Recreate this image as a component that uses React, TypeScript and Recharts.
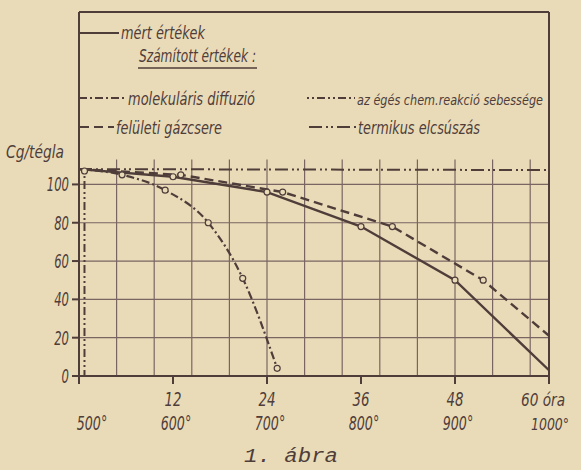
import React from "react"
import { LineChart, Line, XAxis, YAxis, CartesianGrid, ReferenceLine } from "recharts"

// mért értékek
const measuredHours = [0, 12, 24, 36, 48, 60]
const measuredValues = [108, 104, 96, 78, 50, 3]
const measuredMarks = [1, 2, 3, 4]

// felületi gázcsere
const surfaceHours = [0, 13, 26, 40, 51.6, 60]
const surfaceValues = [108, 105, 96, 78, 50, 21]
const surfaceMarks = [1, 2, 3, 4]

// molekuláris diffuzió
const diffusionHours = [0, 5.5, 11, 16.5, 20.9, 25.3]
const diffusionValues = [108, 105, 97, 80, 51, 4]
const diffusionMarks = [1, 2, 3, 4, 5]

// az égés chem. reakció sebessége
const reactionHours = [0.7, 0.7]
const reactionValues = [107, 0]
const reactionMarks = [0]

// termikus elcsúszás
const thermalHours = [0, 60]
const thermalValues = [108, 107.5]

const hourTicks = [0, 12, 24, 36, 48, 60]
const hourLabels = ["", "12", "24", "36", "48", "60 óra"]
const tempLabels = ["500°", "600°", "700°", "800°", "900°", "1000°"]
const yTicks = [0, 20, 40, 60, 80, 100]

const INK = "#4f3d3a"
const GRID = "#7a6562"
const PAPER = "#e9dbb8"
const FONT = "'DejaVu Sans Condensed', 'Liberation Sans Narrow', sans-serif"

// vertical grid every 4.8 h, only up to ~113
const gridHours = Array.from({ length: 12 }, (_, i) => +(4.8 * (i + 1)).toFixed(1))

const zip = (hs: number[], vs: number[]) => hs.map((h, i) => ({ h, v: vs[i] }))

const marker = (marks: number[]) => (p: any) =>
  marks.includes(p.index) ? (
    <circle key={p.key} cx={p.cx} cy={p.cy} r={3} fill={PAPER} stroke={INK} strokeWidth={1.2} />
  ) : (
    <g key={p.key} />
  )

const YTick = (p: any) => {
  const s = String(p.payload.value)
  return (
    <text x={p.x - 1} y={p.y + 7} textAnchor="end" fill={INK} fontFamily={FONT}
      fontStyle="italic" fontSize={19} textLength={s.length * 7.4} lengthAdjust="spacingAndGlyphs">
      {s}
    </text>
  )
}

const XTick = (p: any) => {
  const i = hourTicks.indexOf(p.payload.value)
  const x = p.x
  const hour = hourLabels[i]
  const temp = tempLabels[i]
  const last = i === 5
  const tx = i === 0 ? x + 13 : last ? x - 18 : x + 3
  const hx = last ? x - 28 : x
  return (
    <g fill={INK} fontFamily={FONT} fontStyle="italic" fontSize={last ? 16 : 19}>
      {hour && (
        <text x={hx} y={p.y + 20} textAnchor={last ? "start" : "middle"} fontSize={last ? 18 : 19}
          textLength={last ? 44 : 17} lengthAdjust="spacingAndGlyphs">{hour}</text>
      )}
      <text x={tx} y={p.y + 44} textAnchor={last ? "start" : "middle"}
        textLength={temp.length * 7.6} lengthAdjust="spacingAndGlyphs">{temp}</text>
    </g>
  )
}

const Sample = ({ x1, x2, y, dash }: { x1: number; x2: number; y: number; dash?: string }) => (
  <line x1={x1} x2={x2} y1={y} y2={y} stroke={INK} strokeWidth={2.2} strokeDasharray={dash} />
)

const Label = ({ x, y, w, size = 18, children }: { x: number; y: number; w: number; size?: number; children: string }) => (
  <text x={x} y={y} fill={INK} fontFamily={FONT} fontStyle="italic" fontSize={size}
    textLength={w} lengthAdjust="spacingAndGlyphs">{children}</text>
)

const DASH_DIFF = "8 3 2 3"
const DASH_SURF = "9 5"
const DASH_REACT = "2 3 2 3 8 3"
const DASH_THERM = "13 4 2 3 2 4"

export default function App() {
  return (
    <div style={{ position: "relative", width: 581, height: 470, background: PAPER }}>
      <style>{`body{margin:0}`}</style>
      <LineChart width={581} height={470} margin={{ top: 12, right: 32, bottom: 0, left: 0 }}>
        <CartesianGrid vertical={false} stroke={GRID} strokeWidth={1.2} />
        <XAxis type="number" dataKey="h" domain={[0, 60]} ticks={hourTicks} height={94}
          tickSize={8} stroke={INK} strokeWidth={2} tick={<XTick />} interval={0} />
        <YAxis type="number" domain={[0, 190]} ticks={yTicks} width={79} tickSize={7}
          stroke={INK} strokeWidth={2} tick={<YTick />} interval={0} />
        {gridHours.map((g) => (
          <ReferenceLine key={g} segment={[{ x: g, y: 0 }, { x: g, y: 113 }]}
            stroke={GRID} strokeWidth={1.2} />
        ))}
        <ReferenceLine y={190} stroke={INK} strokeWidth={2} />
        <ReferenceLine x={60} stroke={INK} strokeWidth={2} />
        <Line data={zip(thermalHours, thermalValues)} dataKey="v" stroke={INK} strokeWidth={2}
          strokeDasharray={DASH_THERM} dot={false} isAnimationActive={false} />
        <Line data={zip(reactionHours, reactionValues)} dataKey="v" stroke={INK} strokeWidth={2}
          strokeDasharray={DASH_REACT} dot={marker(reactionMarks)} isAnimationActive={false} />
        <Line data={zip(diffusionHours, diffusionValues)} dataKey="v" type="monotone" stroke={INK}
          strokeWidth={2.2} strokeDasharray={DASH_DIFF} dot={marker(diffusionMarks)} isAnimationActive={false} />
        <Line data={zip(surfaceHours, surfaceValues)} dataKey="v" stroke={INK}
          strokeWidth={2.4} strokeDasharray={DASH_SURF} dot={marker(surfaceMarks)} isAnimationActive={false} />
        <Line data={zip(measuredHours, measuredValues)} dataKey="v" stroke={INK}
          strokeWidth={2.4} dot={marker(measuredMarks)} isAnimationActive={false} />
      </LineChart>
      <svg width={581} height={470} style={{ position: "absolute", left: 0, top: 0, pointerEvents: "none" }}>
        <Sample x1={79} x2={119} y={33} />
        <Label x={121} y={39} w={84}>mért értékek</Label>
        <Label x={139} y={62} w={117}>Számított értékek :</Label>
        <line x1={138} x2={257} y1={68} y2={68} stroke={INK} strokeWidth={1.5} />
        <Sample x1={79} x2={126} y={98} dash={DASH_DIFF} />
        <Label x={128} y={105} w={127}>molekuláris diffuzió</Label>
        <Sample x1={307} x2={355} y={98} dash={DASH_REACT} />
        <Label x={357} y={105} w={186} size={14}>az égés chem.reakció sebessége</Label>
        <Sample x1={80} x2={114} y={127} dash={DASH_SURF} />
        <Label x={116} y={134} w={106}>felületi gázcsere</Label>
        <Sample x1={309} x2={356} y={127} dash={DASH_THERM} />
        <Label x={358} y={134} w={122}>termikus elcsúszás</Label>
        <text x={6} y={158} fill={INK} fontFamily={FONT} fontStyle="italic" fontSize={18}
          textLength={58} lengthAdjust="spacingAndGlyphs">Cg/tégla</text>
        <text x={244} y={462} fill={INK} fontFamily="'Liberation Mono', monospace"
          fontStyle="italic" fontSize={20} textLength={94} lengthAdjust="spacingAndGlyphs">1.  ábra</text>
      </svg>
    </div>
  )
}
